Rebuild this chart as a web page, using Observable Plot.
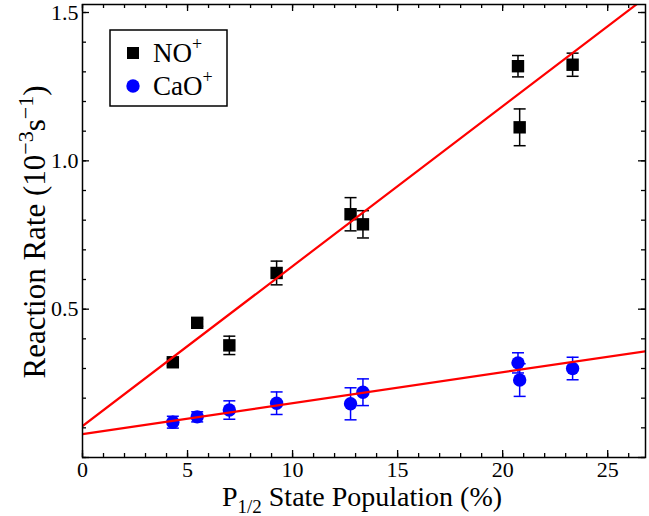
<!DOCTYPE html>
<html><head><meta charset="utf-8">
<script src="https://cdn.jsdelivr.net/npm/d3@7"></script>
<script src="https://cdn.jsdelivr.net/npm/@observablehq/plot@0.6"></script>
<style>body{margin:0;background:#fff} svg text, svg tspan {font-family: "Liberation Serif", "DejaVu Serif", serif;}</style>
</head><body><div id="chart"></div>
<script>
// ---- data ----
const population = [4.30, 5.46, 6.99, 9.24, 12.76, 13.35, 20.73, 20.81, 23.33];
const rateNO  = [0.321, 0.454, 0.378, 0.622, 0.820, 0.786, 1.319, 1.113, 1.324];
const errNO   = [0.012, 0.012, 0.031, 0.040, 0.056, 0.046, 0.036, 0.062, 0.039];
const rateCaO = [0.119, 0.137, 0.160, 0.183, 0.181, 0.220, 0.319, 0.261, 0.300];
const errCaO  = [0.020, 0.017, 0.031, 0.038, 0.054, 0.045, 0.034, 0.055, 0.038];
const fitNO  = {intercept: 0.106, slope: 0.0539};
const fitCaO = {intercept: 0.0785, slope: 0.01044};
const xTicks = [0, 5, 10, 15, 20, 25];
const yTicks = [0.5, 1.0, 1.5];
const xMinor = d3.range(0, 27, 1);
const yMinor = d3.range(0, 1.55, 0.1);
const yMajorTicks = [0, 0.5, 1.0, 1.5];
const xDomain = [0, 26.8];
const yDomain = [0, 1.527];
const seriesNames = ["NO", "CaO"];

// ---- layout ----
const W = 649, H = 516;
const mL = 82, mR = 4, mT = 4, mB = 59;
const pw = W - mL - mR, ph = H - mT - mB;

const rows = population.map((p, i) => ({p, no: rateNO[i], noErr: errNO[i], cao: rateCaO[i], caoErr: errCaO[i]}));
const fitLine = f => xDomain.map(x => ({x, y: f.intercept + f.slope * x}));
const cap = {draw(ctx, size) { const w = Math.sqrt(size / Math.PI); ctx.moveTo(-w, 0); ctx.lineTo(w, 0); }};

const tickStyle = {stroke: "black", strokeWidth: 1.3};
const plot = Plot.plot({
  width: W, height: H,
  marginLeft: mL, marginRight: mR, marginTop: mT, marginBottom: mB,
  style: {background: "white", overflow: "visible"},
  x: {domain: xDomain, label: null, axis: null},
  y: {domain: yDomain, label: null, axis: null},
  marks: [
    // inward ticks on all four sides
    Plot.tickX(xMinor, {x: d => d, insetTop: ph - 4, ...tickStyle}),
    Plot.tickX(xTicks, {x: d => d, insetTop: ph - 7, ...tickStyle}),
    Plot.tickX(xMinor, {x: d => d, insetBottom: ph - 4, ...tickStyle}),
    Plot.tickX(xTicks, {x: d => d, insetBottom: ph - 7, ...tickStyle}),
    Plot.tickY(yMinor, {y: d => d, insetRight: pw - 4, ...tickStyle}),
    Plot.tickY(yMajorTicks, {y: d => d, insetRight: pw - 7, ...tickStyle}),
    Plot.tickY(yMinor, {y: d => d, insetLeft: pw - 4, ...tickStyle}),
    Plot.tickY(yMajorTicks, {y: d => d, insetLeft: pw - 7, ...tickStyle}),
    Plot.axisX(xTicks, {anchor: "bottom", tickSize: 0, tickPadding: 4, fontSize: 22, label: null, tickFormat: d => String(d)}),
    Plot.axisY(yTicks, {anchor: "left", tickSize: 0, tickPadding: 4, fontSize: 22, label: null, tickFormat: d3.format(".1f")}),
    // error bars
    Plot.ruleX(rows, {x: "p", y1: d => d.no - d.noErr, y2: d => d.no + d.noErr, stroke: "black", strokeWidth: 1.5}),
    Plot.dot(rows, {x: "p", y: d => d.no + d.noErr, symbol: cap, r: 6, stroke: "black", strokeWidth: 1.5, fill: "none"}),
    Plot.dot(rows, {x: "p", y: d => d.no - d.noErr, symbol: cap, r: 6, stroke: "black", strokeWidth: 1.5, fill: "none"}),
    Plot.ruleX(rows, {x: "p", y1: d => d.cao - d.caoErr, y2: d => d.cao + d.caoErr, stroke: "#0000ff", strokeWidth: 1.5}),
    Plot.dot(rows, {x: "p", y: d => d.cao + d.caoErr, symbol: cap, r: 6, stroke: "#0000ff", strokeWidth: 1.5, fill: "none"}),
    Plot.dot(rows, {x: "p", y: d => d.cao - d.caoErr, symbol: cap, r: 6, stroke: "#0000ff", strokeWidth: 1.5, fill: "none"}),
    // markers
    Plot.dot(rows, {x: "p", y: "no", symbol: "square", r: 7, fill: "black", stroke: "none"}),
    Plot.dot(rows, {x: "p", y: "cao", symbol: "circle", r: 6.7, fill: "#0000ff", stroke: "none"}),
    // fits
    Plot.line(fitLine(fitNO), {x: "x", y: "y", stroke: "#ff0000", strokeWidth: 2.2, clip: true}),
    Plot.line(fitLine(fitCaO), {x: "x", y: "y", stroke: "#ff0000", strokeWidth: 2.2, clip: true}),
    Plot.frame({stroke: "black", strokeWidth: 1.5})
  ]
});

const svg = d3.select(plot);
// x-axis title
const xt = svg.append("text").attr("x", 362).attr("y", 506)
  .attr("text-anchor", "middle").attr("font-size", 28).attr("fill", "black");
xt.append("tspan").text("P");
xt.append("tspan").attr("font-size", 19).attr("dy", 7).text("1/2");
xt.append("tspan").attr("dy", -7).text(" State Population (%)");
// y-axis title
const yt = svg.append("text").attr("transform", `translate(45,${232}) rotate(-90)`)
  .attr("text-anchor", "middle").attr("font-size", 31).attr("fill", "black");
yt.append("tspan").text("Reaction Rate (10");
yt.append("tspan").attr("font-size", 22).attr("dy", -12).text("\u22123");
yt.append("tspan").attr("dy", 12).text("s");
yt.append("tspan").attr("font-size", 22).attr("dy", -12).text("\u22121");
yt.append("tspan").attr("dy", 12).text(")");

// legend
const lg = svg.append("g");
lg.append("rect").attr("x", 110).attr("y", 30).attr("width", 117).attr("height", 76)
  .attr("fill", "white").attr("stroke", "black").attr("stroke-width", 1.5);
const legendItems = [
  {name: seriesNames[0], color: "black", shape: "square", y: 53},
  {name: seriesNames[1], color: "#0000ff", shape: "circle", y: 86}
];
legendItems.forEach(it => {
  if (it.shape === "square") lg.append("rect").attr("x", 127).attr("y", it.y - 6).attr("width", 12).attr("height", 12).attr("fill", it.color);
  else lg.append("circle").attr("cx", 133).attr("cy", it.y).attr("r", 6.7).attr("fill", it.color);
  const t = lg.append("text").attr("x", 153).attr("y", it.y + 9).attr("text-anchor", "start").attr("font-size", 27).attr("fill", "black");
  t.append("tspan").text(it.name);
  t.append("tspan").attr("font-size", 18).attr("dy", -12).text("+");
});

document.getElementById("chart").appendChild(plot);
</script>
</body></html>
